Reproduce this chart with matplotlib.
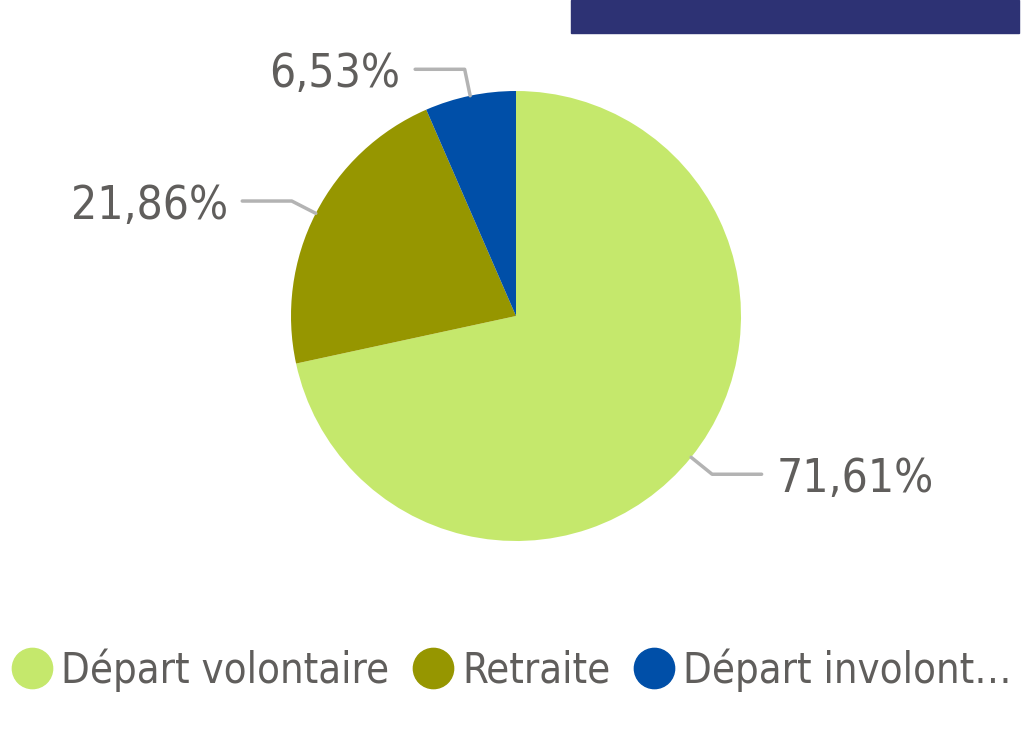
import numpy as np
import matplotlib.pyplot as plt
from matplotlib.lines import Line2D
from matplotlib.patches import Rectangle

categories = ['Départ volontaire', 'Retraite', 'Départ involontaire']
legend_labels = ['Départ volontaire', 'Retraite', 'Départ involont…']
values = [71.61, 21.86, 6.53]
colors = ['#C5E86C', '#969600', '#004FA8']
text_col = '#605E5C'
line_col = '#B3B3B3'

W, H = 1025, 731
fig = plt.figure(figsize=(W / 100, H / 100), dpi=100)

# navy banner top right
fig.patches.append(Rectangle((571 / W, 1 - 33 / H), 448 / W, 33 / H,
                             transform=fig.transFigure, color='#2D3274'))

cx, cy, r = 516, 316, 225
ax = fig.add_axes([(cx - r) / W, (H - cy - r) / H, 2 * r / W, 2 * r / H])
wedges, _ = ax.pie(values, colors=colors, startangle=90, counterclock=False,
                   radius=1, wedgeprops=dict(linewidth=0))
ax.set_xlim(-1, 1)
ax.set_ylim(-1, 1)
ax.set_aspect('equal')
ax.axis('off')

font = dict(family='DejaVu Sans', stretch='condensed')

for w, v in zip(wedges, values):
    ang = np.deg2rad((w.theta1 + w.theta2) / 2)
    x0, y0 = np.cos(ang), np.sin(ang)
    xe, ye = 1.12 * x0, 1.12 * y0
    side = 1 if x0 > 0 else -1
    xh = xe + side * 0.22
    ax.plot([x0, xe, xh], [y0, ye, ye], color=line_col, lw=2.5,
            clip_on=False, solid_capstyle='round')
    ax.text(xh + side * 0.065, ye - 0.025, f'{v:.2f}%'.replace('.', ','),
            ha='left' if side > 0 else 'right', va='center',
            fontsize=33, color=text_col, **font)

handles = [Line2D([], [], marker='o', ls='', markersize=29, color=c) for c in colors]
leg = fig.legend(handles, legend_labels, loc='center', bbox_to_anchor=(0.502, 1 - 670 / H),
                 ncol=3, frameon=False, handlelength=0.7, handletextpad=0.35,
                 columnspacing=0.7, borderaxespad=0, borderpad=0,
                 prop=dict(size=30, **font))
for t in leg.get_texts():
    t.set_color(text_col)

fig.savefig('out.png', dpi=100, facecolor='white')
